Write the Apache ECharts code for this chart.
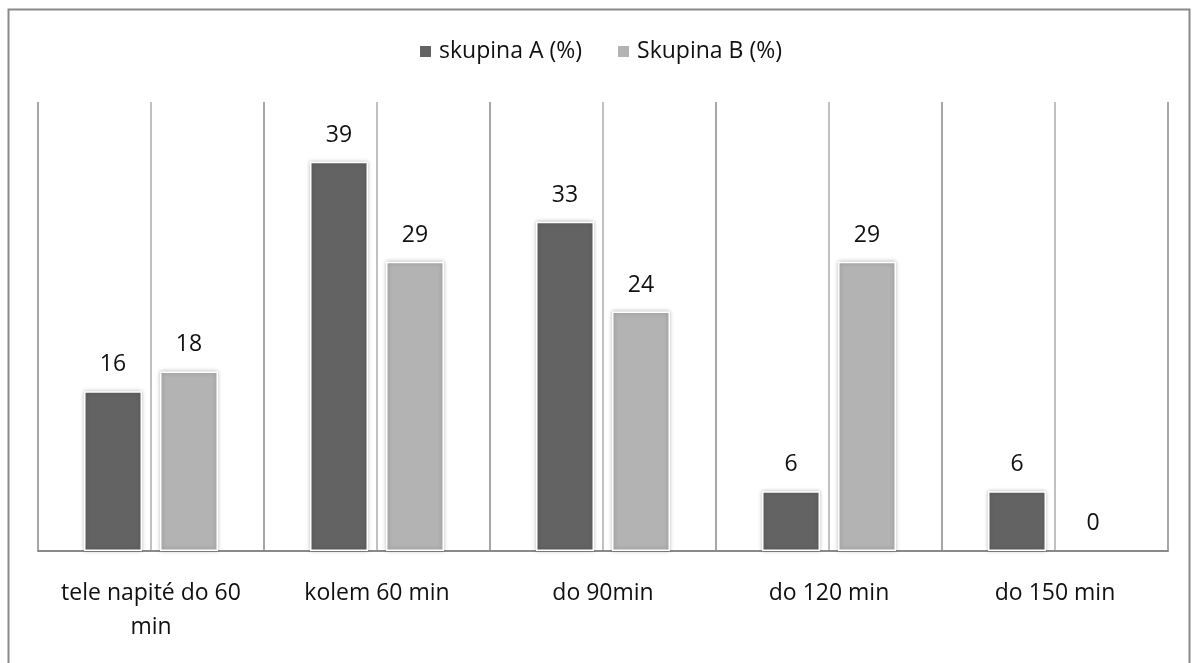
<!DOCTYPE html>
<html>
<head>
<meta charset="utf-8">
<script src="https://cdn.jsdelivr.net/npm/echarts@6/dist/echarts.min.js"></script>
<style>
  html, body { margin: 0; padding: 0; background: #fff; }
  #chart { width: 1200px; height: 663px; }
</style>
</head>
<body>
<div id="chart"></div>
<script>
// Time categories and shares of each group (%)
const categories = ['tele napité do 60\nmin', 'kolem 60 min', 'do 90min', 'do 120 min', 'do 150 min'];
const seriesNames = ['skupina A (%)', 'Skupina B (%)'];
const groupA = [16, 39, 33, 6, 6];
const groupB = [18, 29, 24, 29, 0];

const FONT = '"Open Sans", "Noto Sans", sans-serif';
const FS = 23;
const chart = echarts.init(document.getElementById('chart'), null, { renderer: 'canvas' });

const barStyle = (color) => ({
  color: color,
  borderColor: '#ffffff',
  borderWidth: 1.5,
  shadowBlur: 4,
  shadowColor: 'rgba(0,0,0,0.25)'
});

// zero-height bars get no outline or shadow, only their value label
const toItems = (values) => values.map(v => v === 0
  ? { value: v, itemStyle: { borderColor: 'transparent', shadowColor: 'transparent' } }
  : v);

const valueLabel = {
  show: true,
  position: 'top',
  distance: 15,
  color: '#111',
  fontFamily: FONT,
  fontSize: FS
};

chart.setOption({
  animation: false,
  backgroundColor: '#ffffff',
  graphic: [{
    type: 'rect',
    shape: { x: 8.5, y: 9.5, width: 1181, height: 670 },
    style: { fill: 'none', stroke: '#8a8a8a', lineWidth: 2 },
    silent: true,
    z: 0
  }],
  legend: {
    top: 35,
    left: 'center',
    itemWidth: 13,
    itemHeight: 13,
    itemGap: 34,
    icon: 'rect',
    textStyle: { fontFamily: FONT, fontSize: FS, color: '#111', padding: [0, 0, 0, 2] },
    data: seriesNames
  },
  grid: { left: 38, right: 32, top: 102, bottom: 112 },
  xAxis: [{
    type: 'category',
    data: categories,
    boundaryGap: true,
    axisLine: { show: true, lineStyle: { color: '#8a8a8a', width: 2 } },
    axisTick: { show: false },
    splitLine: { show: false },
    axisLabel: {
      fontFamily: FONT,
      fontSize: FS,
      color: '#111',
      lineHeight: 34,
      margin: 25,
      interval: 0
    }
  }, {
    // half-category vertical grid lines
    type: 'value',
    min: 0,
    max: 10,
    interval: 1,
    position: 'bottom',
    axisLine: { show: false },
    axisTick: { show: false },
    axisLabel: { show: false },
    splitLine: { show: true, lineStyle: { color: ['#8a8a8a', '#acacac'], width: 1.5 } }
  }],
  yAxis: {
    type: 'value',
    min: 0,
    max: 45,
    show: false,
    splitLine: { show: false }
  },
  series: [{
    name: seriesNames[0],
    type: 'bar',
    xAxisIndex: 0,
    data: toItems(groupA),
    barWidth: 58,
    barGap: '31%',
    itemStyle: barStyle('#636363'),
    label: valueLabel,
    z: 3
  }, {
    name: seriesNames[1],
    type: 'bar',
    xAxisIndex: 0,
    data: toItems(groupB),
    barWidth: 58,
    barGap: '31%',
    itemStyle: barStyle('#b3b3b3'),
    label: valueLabel,
    z: 3
  }]
});
</script>
</body>
</html>
